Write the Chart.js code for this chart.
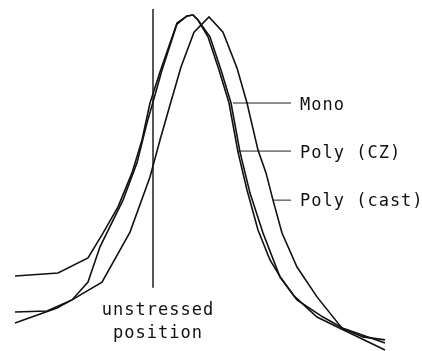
<!DOCTYPE html>
<html>
<head>
<meta charset="utf-8">
<script src="https://cdn.jsdelivr.net/npm/chart.js@4/dist/chart.umd.min.js"></script>
<style>
  html, body { margin: 0; padding: 0; background: #fff; }
  #wrap { width: 422px; height: 351px; }
</style>
</head>
<body>
<div id="wrap"><canvas id="peakChart" width="422" height="351"></canvas></div>
<script>
// peak position (relative shift) and normalised intensity
const monoX = [-13.8, -9.5, -6.5, -5.0, -3.5, -2.1, -1.1, -0.3, 0.7, 2.4, 3.4, 4.0, 4.5, 5.7, 6.8, 7.8, 8.7, 9.7, 11.0, 12.7, 14.4, 17.0, 19.0, 23.2];
const monoY = [0.223, 0.232, 0.277, 0.351, 0.429, 0.530, 0.628, 0.738, 0.830, 0.976, 0.997, 1.000, 0.985, 0.935, 0.836, 0.738, 0.592, 0.470, 0.351, 0.220, 0.152, 0.101, 0.068, 0.024];

const czX = [-13.8, -10.6, -8.1, -6.5, -5.3, -3.0, -1.6, -0.6, 0.2, 0.9, 2.4, 3.4, 4.0, 4.5, 5.5, 6.6, 7.6, 8.5, 9.4, 10.5, 11.7, 12.8, 14.1, 16.4, 19.0, 23.2];
const czY = [0.116, 0.119, 0.152, 0.205, 0.310, 0.449, 0.560, 0.679, 0.762, 0.836, 0.973, 0.997, 1.000, 0.985, 0.935, 0.836, 0.738, 0.592, 0.479, 0.360, 0.271, 0.217, 0.164, 0.101, 0.063, 0.003];

const castX = [-13.8, -9.6, -8.1, -5.1, -2.3, -0.3, 0.7, 1.7, 2.8, 4.1, 5.6, 7.0, 8.4, 9.4, 10.5, 11.3, 12.0, 12.9, 14.4, 16.4, 18.9, 21.0, 23.2];
const castY = [0.083, 0.128, 0.152, 0.205, 0.354, 0.518, 0.628, 0.732, 0.845, 0.949, 0.994, 0.949, 0.842, 0.738, 0.598, 0.530, 0.449, 0.351, 0.250, 0.161, 0.068, 0.042, 0.033];

// unstressed position marker
const unstressedX = [0, 0];
const unstressedY = [1.018, 0.188];

// leader lines from each curve to its label
const leaderNames = ['Mono', 'Poly (CZ)', 'Poly (cast)'];
const leaderStartX = [8.0, 8.5, 12.0];
const leaderEndX = [13.8, 13.8, 13.8];
const leaderY = [0.738, 0.595, 0.449];

function toPoints(xs, ys) {
  return xs.map((x, i) => ({ x: x, y: ys[i] }));
}

const curveStyle = {
  borderColor: '#111',
  borderWidth: 1.6,
  pointRadius: 0,
  tension: 0,
  fill: false
};

const datasets = [
  { label: 'Mono', data: toPoints(monoX, monoY), ...curveStyle },
  { label: 'Poly (CZ)', data: toPoints(czX, czY), ...curveStyle },
  { label: 'Poly (cast)', data: toPoints(castX, castY), ...curveStyle },
  { label: 'unstressed', data: toPoints(unstressedX, unstressedY), ...curveStyle, borderWidth: 1.4 }
];

leaderNames.forEach((name, i) => {
  datasets.push({
    label: name + ' leader',
    data: [{ x: leaderStartX[i], y: leaderY[i] }, { x: leaderEndX[i], y: leaderY[i] }],
    borderColor: '#222',
    borderWidth: 1,
    pointRadius: 0,
    fill: false
  });
});

// text labels (position in data units, baseline)
const textLabels = [
  { text: 'Mono', x: 14.7, y: 0.717, align: 'left' },
  { text: 'Poly (CZ)', x: 14.7, y: 0.574, align: 'left' },
  { text: 'Poly (cast)', x: 14.7, y: 0.432, align: 'left' },
  { text: 'unstressed', x: 0.5, y: 0.107, align: 'center' },
  { text: 'position', x: 0.5, y: 0.039, align: 'center' }
];

const labelPlugin = {
  id: 'labels',
  afterDatasetsDraw(chart) {
    const ctx = chart.ctx;
    const xs = chart.scales.x;
    const ys = chart.scales.y;
    ctx.save();
    ctx.fillStyle = '#111';
    ctx.font = '17px "DejaVu Sans Mono", monospace';
    ctx.letterSpacing = '1px';
    ctx.textBaseline = 'alphabetic';
    textLabels.forEach(l => {
      ctx.textAlign = l.align;
      ctx.fillText(l.text, xs.getPixelForValue(l.x), ys.getPixelForValue(l.y));
    });
    ctx.restore();
  }
};

new Chart(document.getElementById('peakChart'), {
  type: 'line',
  data: { datasets: datasets },
  options: {
    responsive: false,
    animation: false,
    layout: { padding: 0 },
    plugins: {
      legend: { display: false },
      tooltip: { enabled: false }
    },
    scales: {
      x: { type: 'linear', display: false, min: -15.3, max: 26.9 },
      y: { type: 'linear', display: false, min: 0, max: 1.0446 }
    }
  },
  plugins: [labelPlugin]
});
</script>
</body>
</html>
